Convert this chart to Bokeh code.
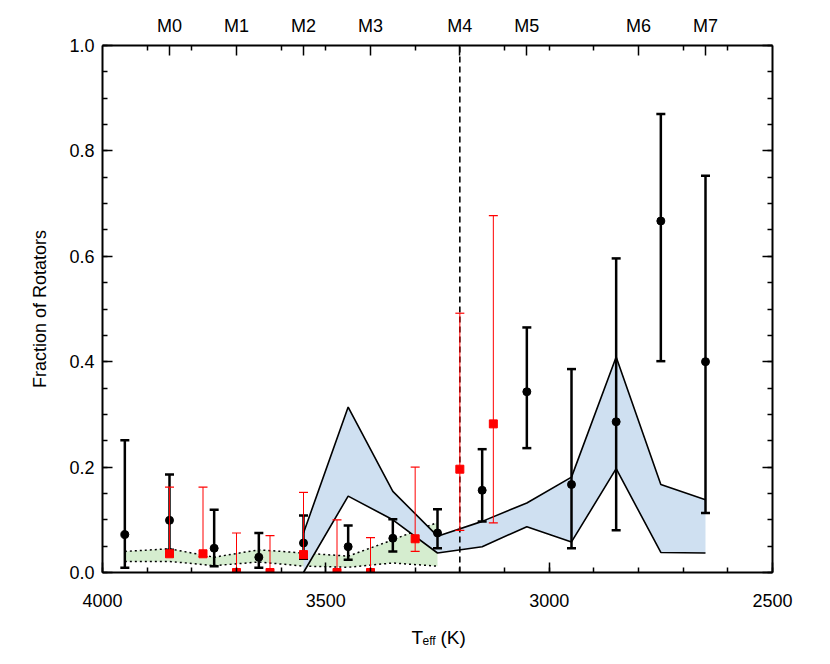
from bokeh.plotting import figure
from bokeh.models import (Range1d, LinearAxis, FixedTicker, SingleIntervalTicker,
                          PrintfTickFormatter, Label)
from bokeh.embed import file_html
from bokeh.resources import INLINE

# ---------------- data ----------------
# black points: fraction of rotators with asymmetric errors
teff_black = [3950, 3850, 3750, 3650, 3550, 3450, 3350, 3250, 3150, 3050, 2950, 2850, 2750, 2650]
frac_black = [0.072, 0.099, 0.046, 0.029, 0.056, 0.049, 0.065, 0.075, 0.156, 0.343, 0.167, 0.286, 0.667, 0.400]
lo_black = [0.009, 0.043, 0.012, 0.009, 0.026, 0.024, 0.040, 0.046, 0.097, 0.236, 0.046, 0.080, 0.401, 0.113]
hi_black = [0.251, 0.186, 0.119, 0.075, 0.108, 0.089, 0.101, 0.120, 0.234, 0.465, 0.386, 0.596, 0.870, 0.753]

# red points
teff_red = [3850, 3775, 3700, 3625, 3550, 3475, 3400, 3300, 3200, 3125]
frac_red = [0.0355, 0.0355, 0.0, 0.0, 0.034, 0.0, 0.0, 0.064, 0.196, 0.282]
lo_red = [0.030, 0.030, 0.0, 0.0, 0.028, 0.0, 0.0, 0.040, 0.080, 0.094]
hi_red = [0.162, 0.162, 0.075, 0.070, 0.152, 0.100, 0.066, 0.200, 0.492, 0.677]

# blue band
teff_blue = [3550, 3450, 3350, 3250, 3150, 3050, 2950, 2850, 2750, 2650]
blue_hi = [0.075, 0.314, 0.154, 0.069, 0.097, 0.132, 0.181, 0.409, 0.167, 0.138]
blue_lo = [0.0, 0.145, 0.100, 0.037, 0.049, 0.087, 0.058, 0.197, 0.038, 0.037]

# green band
teff_green = [3950, 3850, 3750, 3650, 3550, 3450, 3350, 3250]
green_hi = [0.040, 0.045, 0.029, 0.043, 0.037, 0.031, 0.062, 0.095]
green_lo = [0.021, 0.021, 0.013, 0.020, 0.012, 0.010, 0.018, 0.012]

# spectral types on top axis
spt_labels = ["M0", "M1", "M2", "M3", "M4", "M5", "M6", "M7"]
spt_teff = [3850, 3700, 3550, 3400, 3200, 3050, 2800, 2650]
top_minor = [3900, 3800, 3600, 3500, 3300, 3100, 3000, 2900, 2700, 2600]

x_start, x_end = 4000, 2500
y_start, y_end = 0.0, 1.0

FONT = "Liberation Sans"
FS = "18px"

p = figure(frame_width=670, frame_height=527, output_backend="svg", toolbar_location=None,
           x_range=Range1d(x_start, x_end), y_range=Range1d(y_start, y_end),
           min_border_left=102, min_border_top=45, min_border_right=30, min_border_bottom=10,
           background_fill_color="white", border_fill_color="white")
p.xgrid.visible = False
p.ygrid.visible = False
p.outline_line_color = None


def style(ax, major_in=10, minor_in=5):
    ax.axis_line_width = 2
    ax.axis_line_color = "black"
    ax.major_tick_line_width = 1.5
    ax.minor_tick_line_width = 1.5
    ax.major_tick_line_color = "black"
    ax.minor_tick_line_color = "black"
    ax.major_tick_in = major_in
    ax.major_tick_out = 0
    ax.minor_tick_in = minor_in
    ax.minor_tick_out = 0
    ax.major_label_text_font = FONT
    ax.major_label_text_font_size = FS
    ax.major_label_text_color = "black"


# bottom axis
xt = SingleIntervalTicker(interval=500, num_minor_ticks=5)
style(p.xaxis[0])
p.xaxis[0].ticker = xt
p.xaxis[0].major_label_standoff = 21

# left axis
yt = SingleIntervalTicker(interval=0.2, num_minor_ticks=4)
style(p.yaxis[0])
p.yaxis[0].ticker = yt
p.yaxis[0].formatter = PrintfTickFormatter(format="%.1f")
p.yaxis[0].major_label_standoff = 8
p.yaxis[0].axis_label = "Fraction of Rotators"
p.yaxis[0].axis_label_text_font = FONT
p.yaxis[0].axis_label_text_font_size = FS
p.yaxis[0].axis_label_text_font_style = "normal"
p.yaxis[0].axis_label_text_color = "black"
p.yaxis[0].axis_label_standoff = 16

# right axis (ticks only)
ra = LinearAxis(ticker=SingleIntervalTicker(interval=0.2, num_minor_ticks=4))
style(ra)
ra.major_label_text_color = None
ra.major_label_text_font_size = "1px"
ra.major_label_standoff = 0
p.add_layout(ra, "right")

# top axis: spectral types
ta = LinearAxis(ticker=FixedTicker(ticks=spt_teff, minor_ticks=top_minor))
style(ta)
ta.major_label_overrides = {t: s for t, s in zip(spt_teff, spt_labels)}
ta.major_label_standoff = 10
p.add_layout(ta, "above")

# ---------------- glyphs ----------------
# green band
p.varea(x=teff_green, y1=green_lo, y2=green_hi, fill_color="#d5edcf", fill_alpha=1.0)
p.line(teff_green, green_hi, line_color="black", line_width=1.5, line_dash="2 3")
p.line(teff_green, green_lo, line_color="black", line_width=1.5, line_dash="2 3")

# blue band
p.varea(x=teff_blue, y1=blue_lo, y2=blue_hi, fill_color="#cfe0f1", fill_alpha=1.0)
p.line(teff_blue, blue_hi, line_color="black", line_width=1.6)
p.line(teff_blue, blue_lo, line_color="black", line_width=1.6)

# M4 dashed line
p.segment(x0=[spt_teff[4]], y0=[y_start], x1=[spt_teff[4]], y1=[y_end],
          line_color="black", line_width=1.6, line_dash="6 4")

# black error bars and points
p.segment(x0=teff_black, y0=lo_black, x1=teff_black, y1=hi_black, line_color="black", line_width=2.5)
p.scatter(teff_black, hi_black, marker="dash", size=9, line_color="black", line_width=2.5)
p.scatter(teff_black, lo_black, marker="dash", size=9, line_color="black", line_width=2.5)
p.scatter(teff_black, frac_black, marker="circle", size=8, fill_color="black", line_color="black")

# red error bars and points
p.segment(x0=teff_red, y0=lo_red, x1=teff_red, y1=hi_red, line_color="red", line_width=1)
p.scatter(teff_red, hi_red, marker="dash", size=9, line_color="red", line_width=1.2)
p.scatter(teff_red, lo_red, marker="dash", size=9, line_color="red", line_width=1.2)
p.scatter(teff_red, frac_red, marker="square", size=8, fill_color="red", line_color="red")

# x-axis title with subscript: anchored at the centre of the x axis, offset in pixels
x_mid = (x_start + x_end) / 2
p.add_layout(Label(x=x_mid, y=y_start, x_offset=-26, y_offset=-65, text="T",
                   text_font=FONT, text_font_size="19px", text_baseline="alphabetic",
                   text_color="black"), "below")
p.add_layout(Label(x=x_mid, y=y_start, x_offset=-15, y_offset=-68, text="eff",
                   text_font=FONT, text_font_size="12px", text_baseline="alphabetic",
                   text_color="black"), "below")
p.add_layout(Label(x=x_mid, y=y_start, x_offset=3, y_offset=-65, text="(K)",
                   text_font=FONT, text_font_size="19px", text_baseline="alphabetic",
                   text_color="black"), "below")

open("out.html", "w").write(file_html(p, INLINE))
